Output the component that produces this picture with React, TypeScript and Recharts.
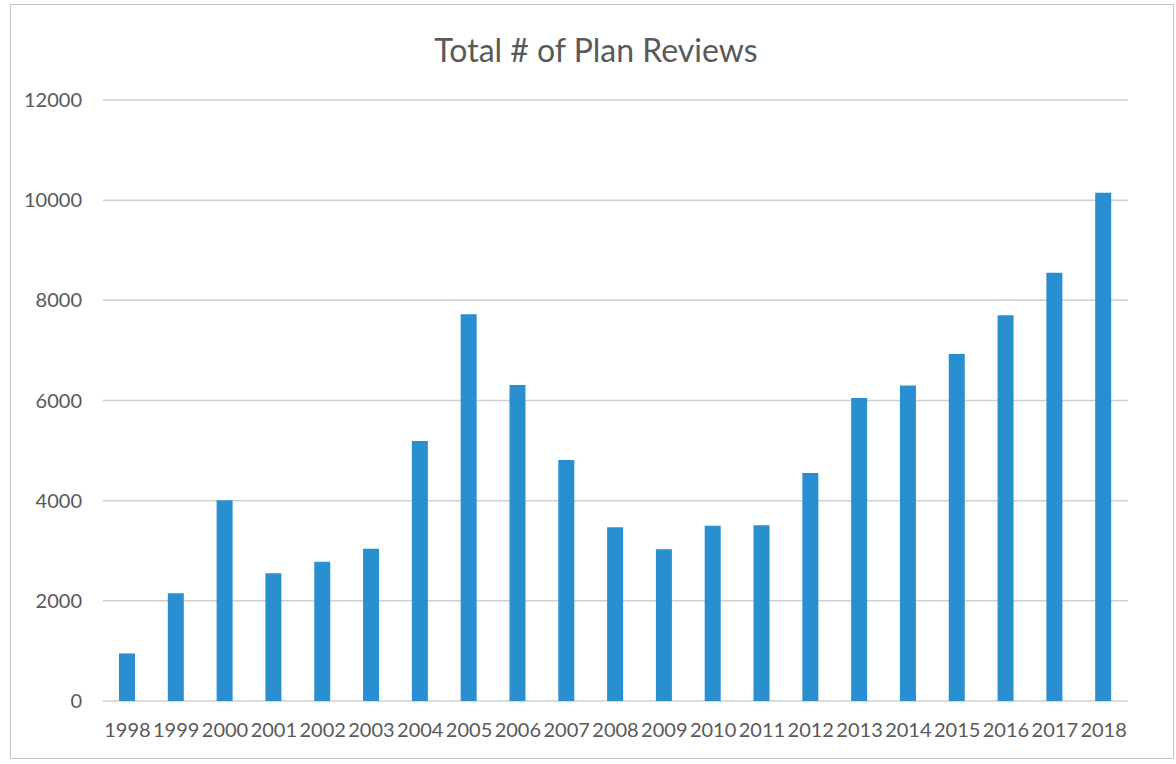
import React from 'react';
import { BarChart, Bar, XAxis, YAxis, CartesianGrid } from 'recharts';

// values
const years = [
  '1998', '1999', '2000', '2001', '2002', '2003', '2004', '2005', '2006', '2007', '2008',
  '2009', '2010', '2011', '2012', '2013', '2014', '2015', '2016', '2017', '2018',
];
const reviews = [
  950, 2150, 4010, 2550, 2780, 3040, 5190, 7720, 6310, 4810, 3470,
  3030, 3500, 3510, 4550, 6050, 6300, 6930, 7700, 8550, 10150,
];
const yTicks = [0, 2000, 4000, 6000, 8000, 10000, 12000];

const data = years.map((year, i) => ({ year, total: reviews[i] }));

const textColor = '#595959';
const font = 'Lato, "Open Sans", sans-serif';

const App: React.FC = () => {
  return (
    <div style={{ position: 'absolute', left: 0, top: 0, width: 1176, height: 764, background: '#fff' }}>
      <div
        style={{
          position: 'absolute', left: 10, top: 4, width: 1164, height: 755,
          border: '1px solid #c4c4c4', boxSizing: 'border-box',
        }}
      />
      <div
        style={{
          position: 'absolute', left: 0, top: 34, width: 1192, textAlign: 'center',
          fontFamily: font, fontSize: 32, lineHeight: '32px', color: textColor,
        }}
      >
        Total # of Plan Reviews
      </div>
      <div style={{ position: 'absolute', left: 0, top: 0 }}>
        <BarChart
          width={1176}
          height={764}
          data={data}
          margin={{ top: 100, right: 48, bottom: 33, left: 0 }}
          barSize={16}
        >
          <CartesianGrid vertical={false} stroke="#cfcfcf" strokeWidth={1.5} />
          <XAxis
            dataKey="year"
            height={30}
            axisLine={false}
            tickLine={false}
            tickMargin={16}
            interval={0}
            tick={{ fill: textColor, fontSize: 20, fontFamily: font }}
          />
          <YAxis
            width={103}
            domain={[0, 12000]}
            ticks={yTicks}
            axisLine={false}
            tickLine={false}
            tickMargin={15}
            tick={{ fill: textColor, fontSize: 20, fontFamily: font }}
          />
          <Bar dataKey="total" fill="#2a8fd1" isAnimationActive={false} />
        </BarChart>
      </div>
    </div>
  );
};

export default App;
